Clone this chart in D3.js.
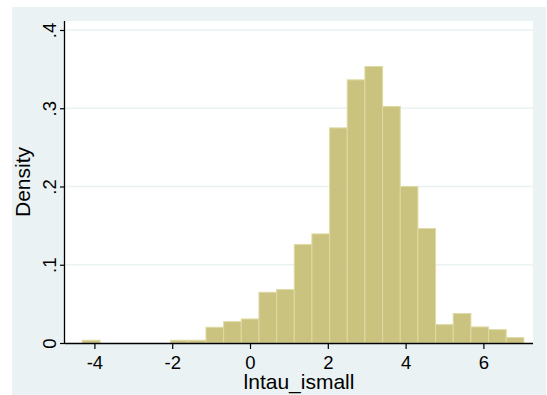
<!DOCTYPE html>
<html>
<head>
<meta charset="utf-8">
<script src="https://cdn.jsdelivr.net/npm/d3@7"></script>
<style>
  html, body { margin: 0; padding: 0; background: #ffffff; }
  svg { display: block; font-family: "Liberation Sans", Arial, Helvetica, sans-serif; }
</style>
</head>
<body>
<svg id="chart" width="547" height="395"></svg>
<script>
// Histogram of lntau_ismall (density scale)
const binLower = [-4.31, -3.856, -3.402, -2.948, -2.494, -2.04, -1.586, -1.132, -0.678, -0.224,
                  0.23, 0.684, 1.138, 1.592, 2.046, 2.5, 2.954, 3.408, 3.862, 4.316,
                  4.77, 5.224, 5.678, 6.132, 6.586];
const binWidth = 0.454;
const density = [0.0035, 0, 0, 0, 0, 0.0035, 0.0035, 0.0201, 0.0273, 0.0307,
                 0.0648, 0.0683, 0.1258, 0.1394, 0.2749, 0.3363, 0.3534, 0.3023, 0.2000, 0.1463,
                 0.0235, 0.0376, 0.0205, 0.0171, 0.0069];
const xTicks = [-4, -2, 0, 2, 4, 6];
const yTicks = [0, 0.1, 0.2, 0.3, 0.4];
const yTickLabels = ["0", ".1", ".2", ".3", ".4"];
const xTitle = "lntau_ismall";
const yTitle = "Density";

const svg = d3.select("#chart");
const plot = { left: 65, right: 533, top: 21, bottom: 343 };

const x = d3.scaleLinear().domain([-4.756, 7.275]).range([plot.left, plot.right]);
const y = d3.scaleLinear().domain([0, 0.4115]).range([plot.bottom, plot.top]);

// outer graph region
svg.append("rect").attr("x", 12).attr("y", 7).attr("width", 534).attr("height", 388)
  .attr("fill", "#eaf2f3");
// plot region
svg.append("rect").attr("x", plot.left).attr("y", plot.top)
  .attr("width", plot.right - plot.left).attr("height", plot.bottom - plot.top)
  .attr("fill", "#ffffff");

// horizontal grid lines
svg.append("g").selectAll("line").data(yTicks.filter(d => d > 0)).join("line")
  .attr("x1", plot.left).attr("x2", plot.right)
  .attr("y1", d => y(d)).attr("y2", d => y(d))
  .attr("stroke", "#eaf2f3").attr("stroke-width", 1.5);

// bars
const bins = binLower.map((lo, i) => ({ lo, hi: lo + binWidth, d: density[i] }));
svg.append("g").selectAll("rect").data(bins.filter(b => b.d > 0)).join("rect")
  .attr("x", b => x(b.lo))
  .attr("y", b => y(b.d))
  .attr("width", b => x(b.hi) - x(b.lo))
  .attr("height", b => y(0) - y(b.d))
  .attr("fill", "#cac380")
  .attr("stroke", "#dfd9a2")
  .attr("stroke-width", 1);

// x axis
const xAxis = d3.axisBottom(x).tickValues(xTicks).tickSize(6).tickPadding(6.5)
  .tickFormat(d => d3.format("d")(d).replace("\u2212", "-"));
const gx = svg.append("g").attr("transform", `translate(0,${plot.bottom})`).call(xAxis);
gx.select(".domain").attr("d", `M${plot.left},0.5H${plot.right}`).attr("stroke", "#000").attr("stroke-width", 1.3);
gx.selectAll(".tick line").attr("stroke", "#000").attr("stroke-width", 1.2);
gx.selectAll(".tick text").attr("font-size", 18.5).attr("fill", "#000")
  .attr("font-family", "'Liberation Sans', Arial, sans-serif");

// y axis
const yAxis = d3.axisLeft(y).tickValues(yTicks).tickSize(5).tickPadding(0)
  .tickFormat((d, i) => yTickLabels[i]);
const gy = svg.append("g").attr("transform", `translate(${plot.left},0)`).call(yAxis);
gy.select(".domain").attr("d", `M-0.5,${plot.top}V${plot.bottom}`).attr("stroke", "#000").attr("stroke-width", 1.3);
gy.selectAll(".tick line").attr("stroke", "#000").attr("stroke-width", 1.2);
gy.selectAll(".tick text")
  .attr("font-size", 18.5).attr("fill", "#000")
  .attr("font-family", "'Liberation Sans', Arial, sans-serif")
  .attr("x", null).attr("dy", null)
  .attr("text-anchor", "middle")
  .attr("transform", "translate(-9.5,0) rotate(-90)");

// axis titles
svg.append("text").attr("x", (plot.left + plot.right) / 2).attr("y", 388.5)
  .attr("text-anchor", "middle").attr("font-size", 21).attr("fill", "#000")
  .text(xTitle);
svg.append("text")
  .attr("transform", `translate(30,${(plot.top + plot.bottom) / 2}) rotate(-90)`)
  .attr("text-anchor", "middle").attr("font-size", 21).attr("fill", "#000")
  .text(yTitle);
</script>
</body>
</html>
